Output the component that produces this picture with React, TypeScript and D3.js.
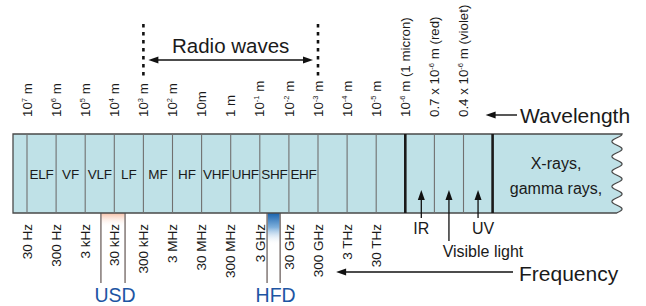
import React from "react";
import * as d3 from "d3";

// band names, one per gap between boundaries 0..10
const bands = ["ELF", "VF", "VLF", "LF", "MF", "HF", "VHF", "UHF", "SHF", "EHF"];
// wavelength tick labels at boundaries 0..15
const wlBase = ["10", "10", "10", "10", "10", "10", "10m", "1 m", "10", "10", "10", "10", "10", "10", "0.7 x 10", "0.4 x 10"];
const wlExp = ["7", "6", "5", "4", "3", "2", "", "", "-1", "-2", "-3", "-4", "-5", "-6", "-6", "-6"];
const wlUnit = [" m", " m", " m", " m", " m", " m", "", "", " m", " m", " m", " m", " m", " m (1 micron)", " m (red)", " m (violet)"];
// frequency tick labels at boundaries 0..12
const freqLabels = ["30 Hz", "300 Hz", "3 kHz", "30 kHz", "300 kHz", "3 MHz", "30 MHz", "300 MHz", "3 GHz", "30 GHz", "300 GHz", "3 THz", "30 THz"];
const thickDividers = [13, 16];
const boundaryCount = 16;
// radio waves span (boundary index)
const radioSpan = [4, 10];
// light markers below the bar (boundary position, label, label offset, line length)
const lightNames = ["IR", "Visible light", "UV"];
const lightPos = [13.55, 14.5, 15.5];
const lightLabelDx = [0, 34, 5];
const lightDrop = [5, 28, 5];
// highlighted frequency strips
const stripNames = ["USD", "HFD"];
const stripFrom = [2.54, 8.25];
const stripTo = [3.37, 8.7];

const W = 646;
const H = 306;
const barTop = 134;
const barBottom = 213;
const barLeft = 13;
const barRight = 617;
const FONT = "'Liberation Sans', Arial, Helvetica, sans-serif";
const TXT = "#1a1a1a";

export default function App() {
  const x = d3.scaleLinear().domain([0, boundaryCount]).range([27, 492.6]);

  // wavy right edge of bar
  const ys = d3.range(barTop, barBottom + 0.5, 0.5);
  const wave = ys.map((y) => [barRight + 5 * Math.cos((2 * Math.PI * (y - barTop)) / 15), y] as [number, number]);
  const wavePath = d3.line()(wave) as string;
  const barPath = `M${barLeft},${barTop}H${wave[0][0]}` + wavePath.replace(/^M/, "L") + `H${barLeft}Z`;

  const arrowHead = (tx: number, ty: number, dir: "l" | "r" | "u", len = 10, half = 3.5) => {
    if (dir === "l") return `M${tx},${ty}L${tx + len},${ty - half}L${tx + len},${ty + half}Z`;
    if (dir === "r") return `M${tx},${ty}L${tx - len},${ty - half}L${tx - len},${ty + half}Z`;
    return `M${tx},${ty}L${tx - half},${ty + len}L${tx + half},${ty + len}Z`;
  };

  const rx0 = x(radioSpan[0]);
  const rx1 = x(radioSpan[1]);

  return (
    <svg width={W} height={H} style={{ position: "absolute", left: 0, top: 0, background: "#fff" }} fontFamily={FONT}>
      <defs>
        <linearGradient id="usdGrad" x1="0" x2="0" y1="0" y2="1">
          <stop offset="0%" stopColor="#f6bfa6" />
          <stop offset="100%" stopColor="#ffffff" stopOpacity="0" />
        </linearGradient>
        <linearGradient id="hfdGrad" x1="0" x2="0" y1="0" y2="1">
          <stop offset="0%" stopColor="#1862ad" />
          <stop offset="45%" stopColor="#7fb0dc" />
          <stop offset="100%" stopColor="#ffffff" stopOpacity="0" />
        </linearGradient>
      </defs>

      {/* Radio waves bracket */}
      {[rx0, rx1].map((rx, i) => (
        <line key={i} x1={rx} x2={rx} y1={24} y2={80} stroke="#111" strokeWidth={2.6} strokeDasharray="3.5 4.5" />
      ))}
      <line x1={rx0 + 10} x2={rx1 - 10} y1={60} y2={60} stroke="#111" strokeWidth={1.4} />
      <path d={arrowHead(rx0 + 5, 60, "l")} fill="#111" />
      <path d={arrowHead(rx1 - 5, 60, "r")} fill="#111" />
      <text x={(rx0 + rx1) / 2} y={53} textAnchor="middle" fontSize={20.5} fill={TXT}>Radio waves</text>

      {/* wavelength labels */}
      {wlBase.map((b, i) => (
        <text key={i} transform={`translate(${x(i)},117) rotate(-90)`} dy="0.35em" fontSize={13.3} fill={TXT}>
          {b}
          {wlExp[i] && <tspan fontSize={7.5} dy="-5">{wlExp[i]}</tspan>}
          {wlExp[i] && <tspan dy="5">{wlUnit[i]}</tspan>}
        </text>
      ))}
      <line x1={x(16) + 2} x2={517} y1={115} y2={115} stroke="#111" strokeWidth={1.4} />
      <path d={arrowHead(x(16) - 7, 115, "l")} fill="#111" />
      <text x={520} y={123} fontSize={21} fill={TXT}>Wavelength</text>

      {/* highlighted strips */}
      {stripNames.map((n, i) => {
        const a = x(stripFrom[i]);
        const b = x(stripTo[i]);
        return (
          <g key={n}>
            <rect x={a} y={barBottom} width={b - a} height={i === 0 ? 14 : 32} fill={`url(#${i === 0 ? "usd" : "hfd"}Grad)`} />
            <line x1={a} x2={a} y1={barBottom} y2={283} stroke="#8a807e" strokeWidth={1.6} />
            <line x1={b} x2={b} y1={barBottom} y2={283} stroke="#8a807e" strokeWidth={1.6} />
            <text x={(a + b) / 2 + 2} y={302} textAnchor="middle" fontSize={19.5} fill="#1d55a3">{n}</text>
          </g>
        );
      })}

      {/* spectrum bar */}
      <path d={barPath} fill="#bfe1e7" stroke="#4a4a4a" strokeWidth={1.3} />
      {d3.range(0, boundaryCount + 1).map((i) => {
        const thick = thickDividers.includes(i);
        return (
          <line key={i} x1={x(i)} x2={x(i)} y1={barTop} y2={barBottom}
            stroke={thick ? "#1a1a1a" : "#707070"} strokeWidth={thick ? 2.6 : 1.1} />
        );
      })}
      {bands.map((b, i) => (
        <text key={b} x={(x(i) + x(i + 1)) / 2} y={179} textAnchor="middle" fontSize={13.5}
          letterSpacing={b.length > 2 ? -0.3 : 0} fill={TXT}>{b}</text>
      ))}
      <text x={556} y={169} textAnchor="middle" fontSize={16} fill={TXT}>X-rays,</text>
      <text x={556} y={194} textAnchor="middle" fontSize={16} fill={TXT}>gamma rays,</text>

      {/* light markers */}
      {lightNames.map((n, i) => {
        const lx = x(lightPos[i]);
        return (
          <g key={n}>
            <line x1={lx} x2={lx} y1={198} y2={barBottom + lightDrop[i]} stroke="#111" strokeWidth={1.3} />
            <path d={arrowHead(lx, 190, "u", 10, 3.5)} fill="#111" />
            <text x={lx + lightLabelDx[i]} y={barBottom + lightDrop[i] + 16} textAnchor="middle" fontSize={16} fill={TXT}>{n}</text>
          </g>
        );
      })}

      {/* frequency labels */}
      {freqLabels.map((f, i) => (
        <text key={f} transform={`translate(${x(i)},224) rotate(-90)`} dy="0.35em" textAnchor="end" fontSize={13.5} fill={TXT}>{f}</text>
      ))}
      <line x1={x(11) - 2} x2={513} y1={272} y2={272} stroke="#111" strokeWidth={1.4} />
      <path d={arrowHead(x(11) - 11, 272, "l")} fill="#111" />
      <text x={519} y={281} fontSize={21} fill={TXT}>Frequency</text>
    </svg>
  );
}
